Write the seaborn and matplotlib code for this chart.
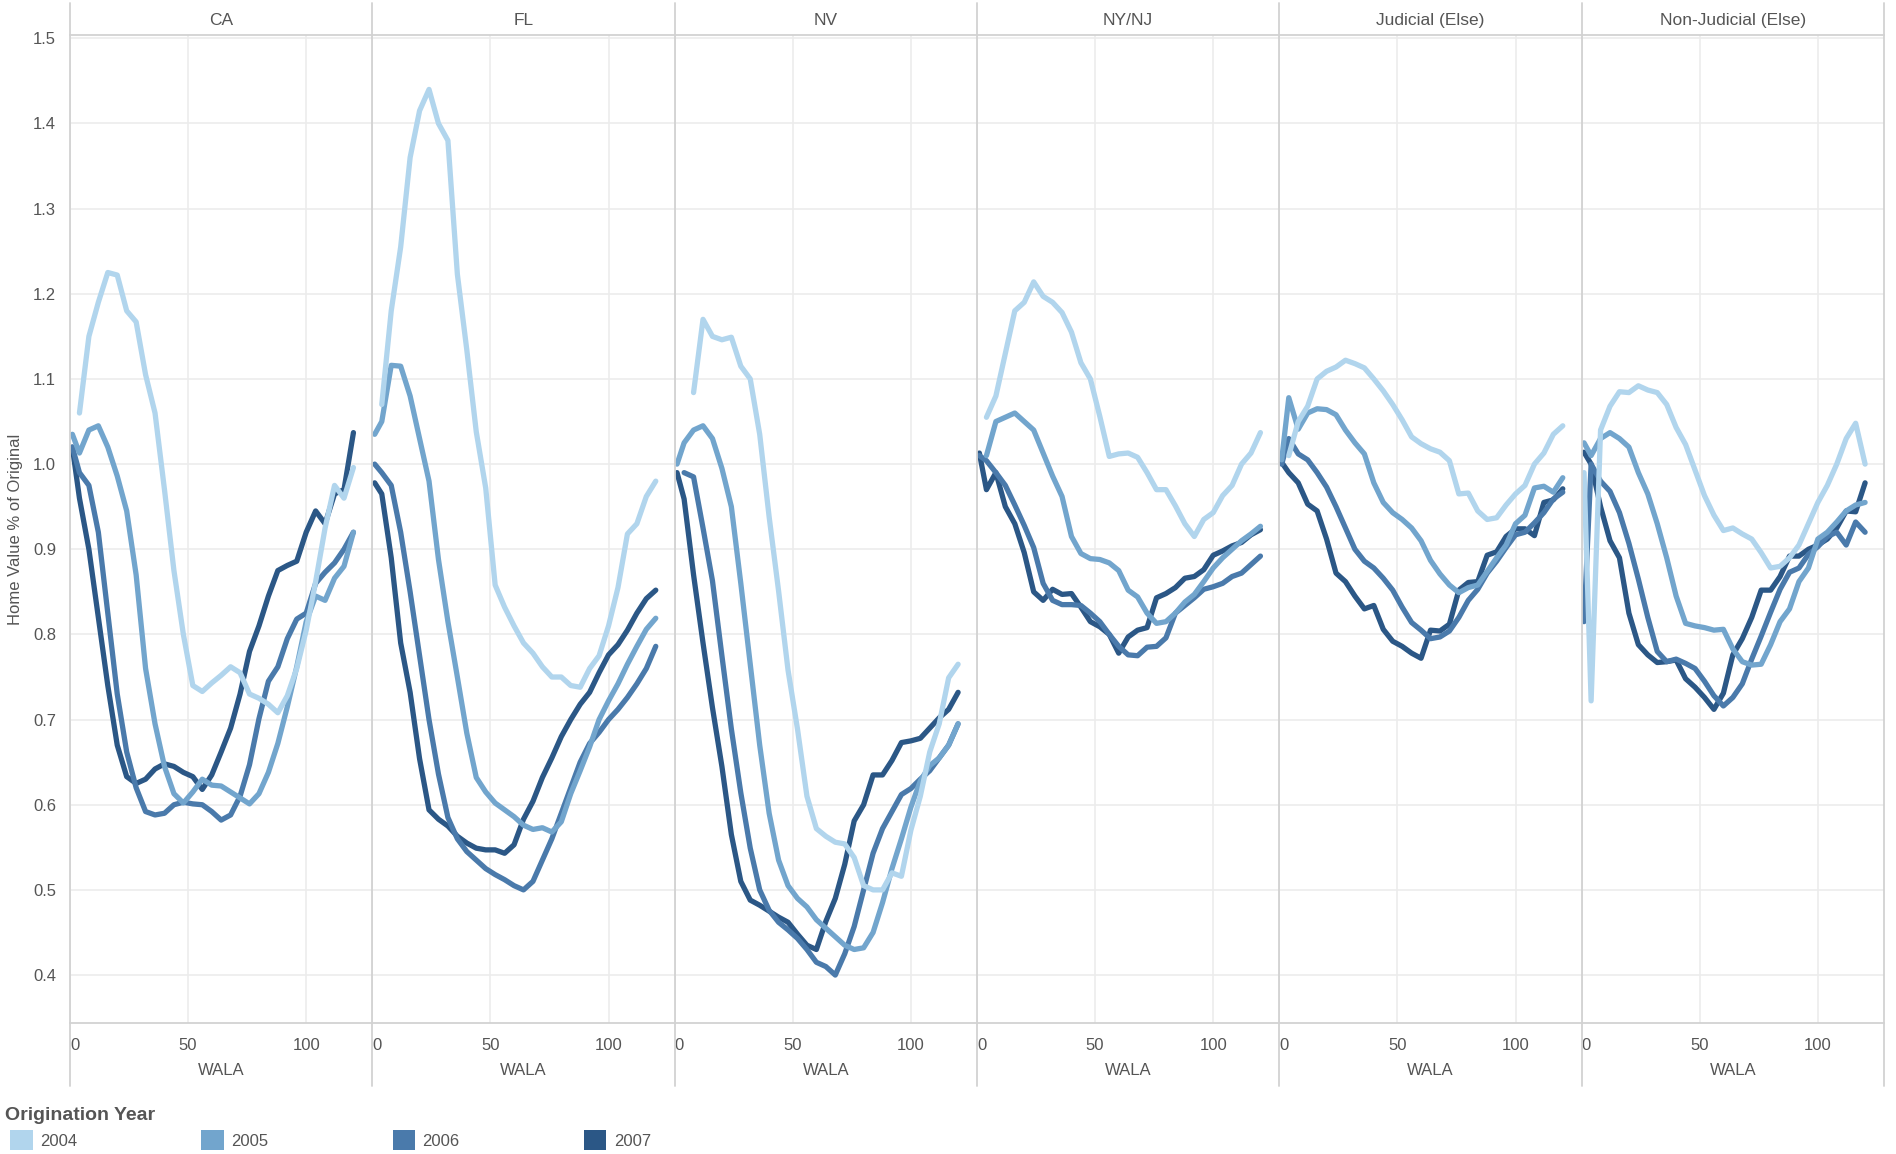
"""
Home value % of original by WALA, faceted by state group and origination year.
"""

import numpy as np
import pandas as pd
import matplotlib
matplotlib.use('Agg')
import matplotlib.pyplot as plt
from matplotlib.lines import Line2D
from matplotlib.patches import Patch
import seaborn as sns

W, H = 1896, 1154

REGIONS = ['CA', 'FL', 'NV', 'NY/NJ', 'Judicial (Else)', 'Non-Judicial (Else)']
YEARS = ['2004', '2005', '2006', '2007']
COLORS = ['#b1d5ed', '#72a5cd', '#4a7aab', '#2b5786']

nan = np.nan
WALA = [1, 4, 8, 12, 16, 20, 24, 28, 32, 36, 40, 44, 48, 52, 56, 60,
        64, 68, 72, 76, 80, 84, 88, 92, 96, 100, 104, 108, 112, 116, 120]

# values (home value as fraction of original)
CA_2004 = [nan, 1.06, 1.15, 1.19, 1.225, 1.222, 1.18, 1.167, 1.105, 1.06, 0.97, 0.875, 0.8, 0.74, 0.733, 0.743,
           0.752, 0.762, 0.755, 0.73, 0.725, 0.718, 0.708, 0.728, 0.76, 0.805, 0.862, 0.925, 0.975, 0.96, 0.996]
CA_2005 = [1.035, 1.013, 1.04, 1.045, 1.02, 0.986, 0.945, 0.87, 0.76, 0.695, 0.645, 0.613, 0.602, 0.615, 0.63, 0.623,
           0.622, 0.615, 0.608, 0.601, 0.613, 0.638, 0.672, 0.715, 0.762, 0.815, 0.845, 0.84, 0.866, 0.88, 0.92]
CA_2006 = [1.02, 0.99, 0.975, 0.92, 0.825, 0.73, 0.662, 0.62, 0.592, 0.588, 0.59, 0.6, 0.603, 0.601, 0.6, 0.592,
           0.582, 0.588, 0.61, 0.647, 0.701, 0.745, 0.762, 0.795, 0.818, 0.825, 0.86, 0.873, 0.884, 0.9, 0.92]
CA_2007 = [1.02, 0.96, 0.9, 0.82, 0.74, 0.67, 0.633, 0.625, 0.63, 0.642, 0.648, 0.645, 0.638, 0.633, 0.618, 0.635,
           0.662, 0.69, 0.73, 0.78, 0.81, 0.845, 0.875, 0.881, 0.886, 0.92, 0.945, 0.93, 0.965, 0.97, 1.037]

FL_2004 = [nan, 1.07, 1.18, 1.255, 1.36, 1.415, 1.44, 1.4, 1.38, 1.223, 1.134, 1.038, 0.972, 0.858, 0.832, 0.81,
           0.79, 0.778, 0.762, 0.75, 0.75, 0.74, 0.738, 0.76, 0.775, 0.81, 0.855, 0.918, 0.93, 0.962, 0.98]
FL_2005 = [1.035, 1.05, 1.116, 1.115, 1.08, 1.03, 0.98, 0.888, 0.815, 0.75, 0.684, 0.632, 0.615, 0.602, 0.594, 0.586,
           0.576, 0.571, 0.573, 0.568, 0.58, 0.613, 0.64, 0.668, 0.7, 0.722, 0.742, 0.765, 0.786, 0.806, 0.819]
FL_2006 = [1.0, 0.99, 0.975, 0.92, 0.85, 0.775, 0.7, 0.636, 0.585, 0.56, 0.545, 0.535, 0.525, 0.518, 0.512, 0.505,
           0.5, 0.51, 0.535, 0.56, 0.59, 0.62, 0.65, 0.672, 0.685, 0.7, 0.712, 0.726, 0.742, 0.76, 0.786]
FL_2007 = [0.978, 0.965, 0.89, 0.79, 0.732, 0.654, 0.594, 0.583, 0.575, 0.563, 0.555, 0.549, 0.547, 0.547, 0.543, 0.553,
           0.583, 0.604, 0.632, 0.655, 0.68, 0.7, 0.718, 0.732, 0.755, 0.776, 0.788, 0.805, 0.825, 0.842, 0.852]

NV_2004 = [nan, nan, 1.084, 1.17, 1.15, 1.146, 1.149, 1.115, 1.1, 1.035, 0.938, 0.851, 0.758, 0.689, 0.61, 0.572,
           0.563, 0.556, 0.554, 0.538, 0.505, 0.5, 0.5, 0.52, 0.516, 0.57, 0.61, 0.662, 0.695, 0.749, 0.765]
NV_2005 = [1.0, 1.025, 1.04, 1.045, 1.03, 0.995, 0.95, 0.86, 0.765, 0.67, 0.59, 0.535, 0.505, 0.49, 0.48, 0.465,
           0.455, 0.445, 0.435, 0.43, 0.432, 0.45, 0.485, 0.525, 0.56, 0.597, 0.628, 0.646, 0.655, 0.67, 0.695]
NV_2006 = [nan, 0.99, 0.985, 0.925, 0.863, 0.775, 0.689, 0.614, 0.549, 0.5, 0.476, 0.462, 0.453, 0.443, 0.43, 0.415,
           0.41, 0.4, 0.425, 0.457, 0.5, 0.543, 0.572, 0.592, 0.612, 0.619, 0.63, 0.64, 0.655, 0.67, 0.695]
NV_2007 = [0.99, 0.959, 0.87, 0.79, 0.714, 0.645, 0.565, 0.51, 0.488, 0.482, 0.475, 0.468, 0.462, 0.448, 0.435, 0.43,
           0.463, 0.49, 0.53, 0.581, 0.6, 0.635, 0.635, 0.652, 0.673, 0.675, 0.678, 0.69, 0.702, 0.712, 0.732]

NYNJ_2004 = [nan, 1.055, 1.08, 1.13, 1.18, 1.19, 1.214, 1.197, 1.19, 1.178, 1.155, 1.119, 1.1, 1.056, 1.009, 1.012,
             1.013, 1.008, 0.99, 0.97, 0.97, 0.951, 0.93, 0.915, 0.935, 0.943, 0.963, 0.975, 1.0, 1.013, 1.037]
NYNJ_2005 = [nan, 1.01, 1.05, 1.055, 1.06, 1.05, 1.04, 1.013, 0.986, 0.962, 0.915, 0.895, 0.889, 0.888, 0.884, 0.875,
             0.852, 0.844, 0.825, 0.813, 0.815, 0.825, 0.838, 0.847, 0.862, 0.878, 0.89, 0.9, 0.91, 0.918, 0.927]
NYNJ_2006 = [1.01, 1.004, 0.99, 0.975, 0.952, 0.928, 0.902, 0.86, 0.84, 0.835, 0.835, 0.834, 0.825, 0.815, 0.8, 0.786,
             0.776, 0.775, 0.785, 0.786, 0.796, 0.825, 0.834, 0.843, 0.853, 0.856, 0.86, 0.868, 0.872, 0.882, 0.892]
NYNJ_2007 = [1.013, 0.97, 0.99, 0.95, 0.93, 0.896, 0.85, 0.84, 0.853, 0.847, 0.848, 0.832, 0.815, 0.809, 0.8, 0.778,
             0.797, 0.805, 0.808, 0.843, 0.848, 0.855, 0.866, 0.868, 0.876, 0.893, 0.898, 0.904, 0.908, 0.917, 0.923]

JUD_2004 = [nan, 1.01, 1.05, 1.068, 1.1, 1.109, 1.114, 1.122, 1.118, 1.113, 1.1, 1.086, 1.07, 1.052, 1.032, 1.024,
            1.018, 1.014, 1.004, 0.965, 0.966, 0.945, 0.935, 0.937, 0.952, 0.965, 0.975, 1.0, 1.013, 1.035, 1.045]
JUD_2005 = [1.005, 1.078, 1.041, 1.06, 1.065, 1.064, 1.058, 1.04, 1.025, 1.012, 0.978, 0.955, 0.943, 0.935, 0.925, 0.91,
            0.887, 0.871, 0.858, 0.849, 0.855, 0.858, 0.874, 0.89, 0.905, 0.93, 0.94, 0.972, 0.974, 0.967, 0.984]
JUD_2006 = [1.0, 1.03, 1.012, 1.005, 0.99, 0.973, 0.95, 0.925, 0.9, 0.886, 0.878, 0.866, 0.852, 0.832, 0.814, 0.805,
            0.795, 0.797, 0.804, 0.82, 0.84, 0.853, 0.872, 0.886, 0.902, 0.917, 0.92, 0.931, 0.943, 0.959, 0.967]
JUD_2007 = [1.002, 0.99, 0.978, 0.953, 0.945, 0.912, 0.872, 0.862, 0.845, 0.83, 0.834, 0.806, 0.792, 0.786, 0.778, 0.772,
            0.805, 0.804, 0.812, 0.852, 0.861, 0.862, 0.893, 0.897, 0.915, 0.924, 0.924, 0.916, 0.955, 0.958, 0.971]

NONJUD_2004 = [0.99, 0.722, 1.04, 1.068, 1.085, 1.084, 1.092, 1.087, 1.084, 1.07, 1.043, 1.023, 0.993, 0.963, 0.94, 0.922,
               0.925, 0.918, 0.912, 0.896, 0.878, 0.88, 0.89, 0.905, 0.93, 0.955, 0.975, 1.0, 1.03, 1.048, 1.0]
NONJUD_2005 = [1.025, 1.01, 1.03, 1.037, 1.03, 1.02, 0.99, 0.965, 0.93, 0.89, 0.845, 0.813, 0.81, 0.808, 0.805, 0.806,
               0.783, 0.768, 0.764, 0.765, 0.788, 0.815, 0.83, 0.862, 0.878, 0.912, 0.92, 0.932, 0.945, 0.952, 0.955]
NONJUD_2006 = [0.815, 1.0, 0.98, 0.968, 0.943, 0.907, 0.865, 0.82, 0.78, 0.768, 0.771, 0.766, 0.76, 0.745, 0.728, 0.716,
               0.726, 0.742, 0.771, 0.798, 0.826, 0.853, 0.873, 0.878, 0.894, 0.903, 0.915, 0.92, 0.905, 0.932, 0.92]
NONJUD_2007 = [1.014, 1.0, 0.95, 0.91, 0.89, 0.825, 0.788, 0.776, 0.767, 0.768, 0.77, 0.748, 0.738, 0.726, 0.712, 0.731,
               0.776, 0.795, 0.82, 0.852, 0.852, 0.868, 0.892, 0.892, 0.9, 0.905, 0.912, 0.925, 0.945, 0.944, 0.978]

SERIES = {
    'CA': [CA_2004, CA_2005, CA_2006, CA_2007],
    'FL': [FL_2004, FL_2005, FL_2006, FL_2007],
    'NV': [NV_2004, NV_2005, NV_2006, NV_2007],
    'NY/NJ': [NYNJ_2004, NYNJ_2005, NYNJ_2006, NYNJ_2007],
    'Judicial (Else)': [JUD_2004, JUD_2005, JUD_2006, JUD_2007],
    'Non-Judicial (Else)': [NONJUD_2004, NONJUD_2005, NONJUD_2006, NONJUD_2007],
}

rows = []
for region in REGIONS:
    for year, vals in zip(YEARS, SERIES[region]):
        for w, v in zip(WALA, vals):
            rows.append((region, year, w, v))
df = pd.DataFrame(rows, columns=['region', 'year', 'WALA', 'value']).dropna()

TEXT = '#555555'
GRID = '#ececec'
EDGE = '#d2d2d2'

sns.set_theme(style='white')
plt.rcParams['font.family'] = ['Liberation Sans', 'DejaVu Sans']

# later years first so the light 2004 line sits on top
g = sns.relplot(data=df, x='WALA', y='value', hue='year', col='region', kind='line',
                col_order=REGIONS, hue_order=YEARS[::-1],
                palette=dict(zip(YEARS, COLORS)), linewidth=3.8, errorbar=None,
                legend=False, height=5, aspect=0.5,
                facet_kws=dict(sharex=True, sharey=True))
fig = g.figure
fig.set_size_inches(W / 100, H / 100)
fig.set_dpi(100)
fig.subplots_adjust(left=70 / W, right=1884 / W, top=1 - 35 / H, bottom=1 - 1023 / H, wspace=0)

g.set_titles('{col_name}', size=12.5, color=TEXT, pad=7)
g.set_axis_labels('WALA', '')

for i, ax in enumerate(g.axes.flat):
    ax.set_xlim(0, 128)
    ax.set_ylim(0.3437, 1.5039)
    ax.set_xticks([0, 50, 100])
    ax.set_yticks(np.round(np.arange(0.4, 1.51, 0.1), 1))
    ax.grid(True, color=GRID, lw=1.2)
    ax.set_axisbelow(True)
    for side in ['left', 'right']:
        ax.spines[side].set_visible(False)
    for side in ['top', 'bottom']:
        ax.spines[side].set_visible(True)
        ax.spines[side].set_color(EDGE)
        ax.spines[side].set_linewidth(1.3)
    ax.tick_params(axis='x', length=0, pad=10.5, labelsize=12, labelcolor=TEXT)
    ax.xaxis.get_major_ticks()[0].label1.set_horizontalalignment('left')
    ax.xaxis.label.set_size(12)
    ax.xaxis.label.set_color(TEXT)
    ax.xaxis.labelpad = 7.5
    if i == 0:
        ax.tick_params(axis='y', length=7, width=1, color=EDGE, pad=3,
                       labelsize=12, labelcolor=TEXT)
    else:
        ax.tick_params(axis='y', length=0)

# panel dividers running through header and axis area
edges = [ax.get_position().x0 for ax in g.axes.flat] + [g.axes.flat[-1].get_position().x1]
for x in edges:
    fig.add_artist(Line2D([x, x], [1 - 3 / H, 1 - 1086 / H], transform=fig.transFigure,
                          color=EDGE, lw=1.3))

fig.text(16 / W, 1 - 529 / H, 'Home Value % of Original', rotation=90,
         ha='center', va='center', fontsize=12, color=TEXT)

# legend
fig.text(5 / W, 1 - 1115 / H, 'Origination Year', fontsize=14, fontweight='bold',
         color=TEXT, ha='left', va='center')
handles = [Patch(facecolor=c, edgecolor='none', label=y) for y, c in zip(YEARS, COLORS)]
fig.legend(handles=handles, loc='center left', bbox_to_anchor=(10 / W, 1 - 1140 / H),
           ncol=4, frameon=False, fontsize=12, labelcolor=TEXT,
           handlelength=1.35, handleheight=1.5, handletextpad=0.45,
           columnspacing=7.45, borderpad=0, borderaxespad=0)

fig.savefig('out.png', dpi=100, facecolor='white')
